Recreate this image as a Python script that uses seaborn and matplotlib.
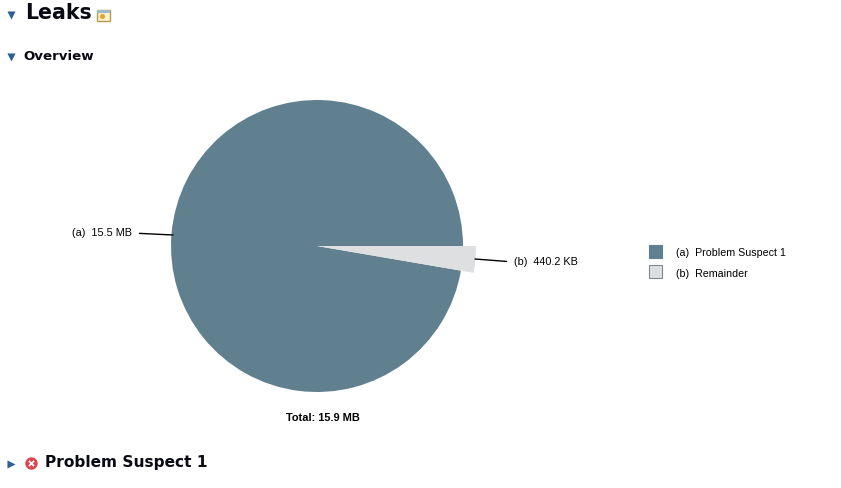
import matplotlib
matplotlib.use("Agg")
import matplotlib.pyplot as plt
from matplotlib.patches import Rectangle
import seaborn as sns

# values in KB
categories = ["(a)  Problem Suspect 1", "(b)  Remainder"]
sizes_kb = [15500 * 1.024, 440.2]
slice_labels = ["(a)  15.5 MB", "(b)  440.2 KB"]
colors = ["#607f8f", "#dedfe1"]
total_label = "Total: 15.9 MB"

W, H = 841, 488

sns.set_theme(style="white")
plt.rcParams["font.family"] = ["Liberation Sans", "DejaVu Sans"]

fig = plt.figure(figsize=(W / 100, H / 100), dpi=100, facecolor="white")

# pie axes, one data unit is the pie radius (146 px)
cx, cy, r = 317, 246, 146
pie_ax = fig.add_axes([(cx - r) / W, 1 - (cy + r) / H, 2 * r / W, 2 * r / H])
wedges, _ = pie_ax.pie(sizes_kb, colors=colors, startangle=0, radius=1,
                       wedgeprops={"linewidth": 0})
pie_ax.set_xlim(-1, 1)
pie_ax.set_ylim(-1, 1)
# the small slice sticks out past the big one
wedges[1].set_radius(159 / 146)
wedges[1].set_clip_on(False)
wedges[1].set_zorder(5)

# overlay in pixel coords for all the page text
ax = fig.add_axes([0, 0, 1, 1], zorder=10)
ax.set_xlim(0, W)
ax.set_ylim(H, 0)
ax.axis("off")
ax.patch.set_alpha(0)

bold = {"family": ["DejaVu Sans"], "fontweight": "bold", "color": "#0a0a14", "va": "center"}
ax.text(25, 13, "Leaks", fontsize=14.8, **bold)
ax.text(23, 56, "Overview", fontsize=9.6, **bold)
ax.text(45, 463, "Problem Suspect 1", fontsize=11.1, **bold)

# collapse triangles
ax.scatter([11, 11], [15, 57], marker="v", s=34, color="#2f5f94", linewidths=0)
ax.scatter([11], [464], marker=">", s=34, color="#2f5f94", linewidths=0)

# little icons next to the headings
ax.add_patch(Rectangle((97, 10), 13, 11, facecolor="#fdf3d0", edgecolor="#b89a50", linewidth=1))
ax.add_patch(Rectangle((97, 10), 13, 3, facecolor="#9fb8cc", edgecolor="none"))
ax.scatter([102], [16], marker="o", s=14, color="#e0a830", linewidths=0)
ax.scatter([31], [463], marker="o", s=80, color="#d9484f", linewidths=0)
ax.scatter([31], [463], marker="x", s=14, color="white", linewidths=1.2)

# slice labels with leader lines
ax.annotate(slice_labels[0], xy=(173, 235), xytext=(72, 233), fontsize=7.8,
            color="black", va="center", ha="left",
            arrowprops={"arrowstyle": "-", "color": "black", "lw": 1,
                        "relpos": (1, 0.5), "shrinkA": 3, "shrinkB": 0})
ax.annotate(slice_labels[1], xy=(475, 259), xytext=(514, 262), fontsize=7.8,
            color="black", va="center", ha="left",
            arrowprops={"arrowstyle": "-", "color": "black", "lw": 1,
                        "relpos": (0, 0.5), "shrinkA": 3, "shrinkB": 0})

ax.text(322.5, 418, total_label, fontsize=7.9, fontweight="bold", color="black",
        ha="center", va="center")

# legend
for y, text_y, cat, col in zip([252, 272], [253, 274], categories, colors):
    ax.add_patch(Rectangle((649.5, y - 7), 13, 13, facecolor=col, edgecolor="#7f8a90" if col == colors[1] else col,
                           linewidth=0.8))
    ax.text(676, text_y, cat, fontsize=7.7, color="black", va="center", ha="left")

fig.savefig("out.png", dpi=100, facecolor="white")
